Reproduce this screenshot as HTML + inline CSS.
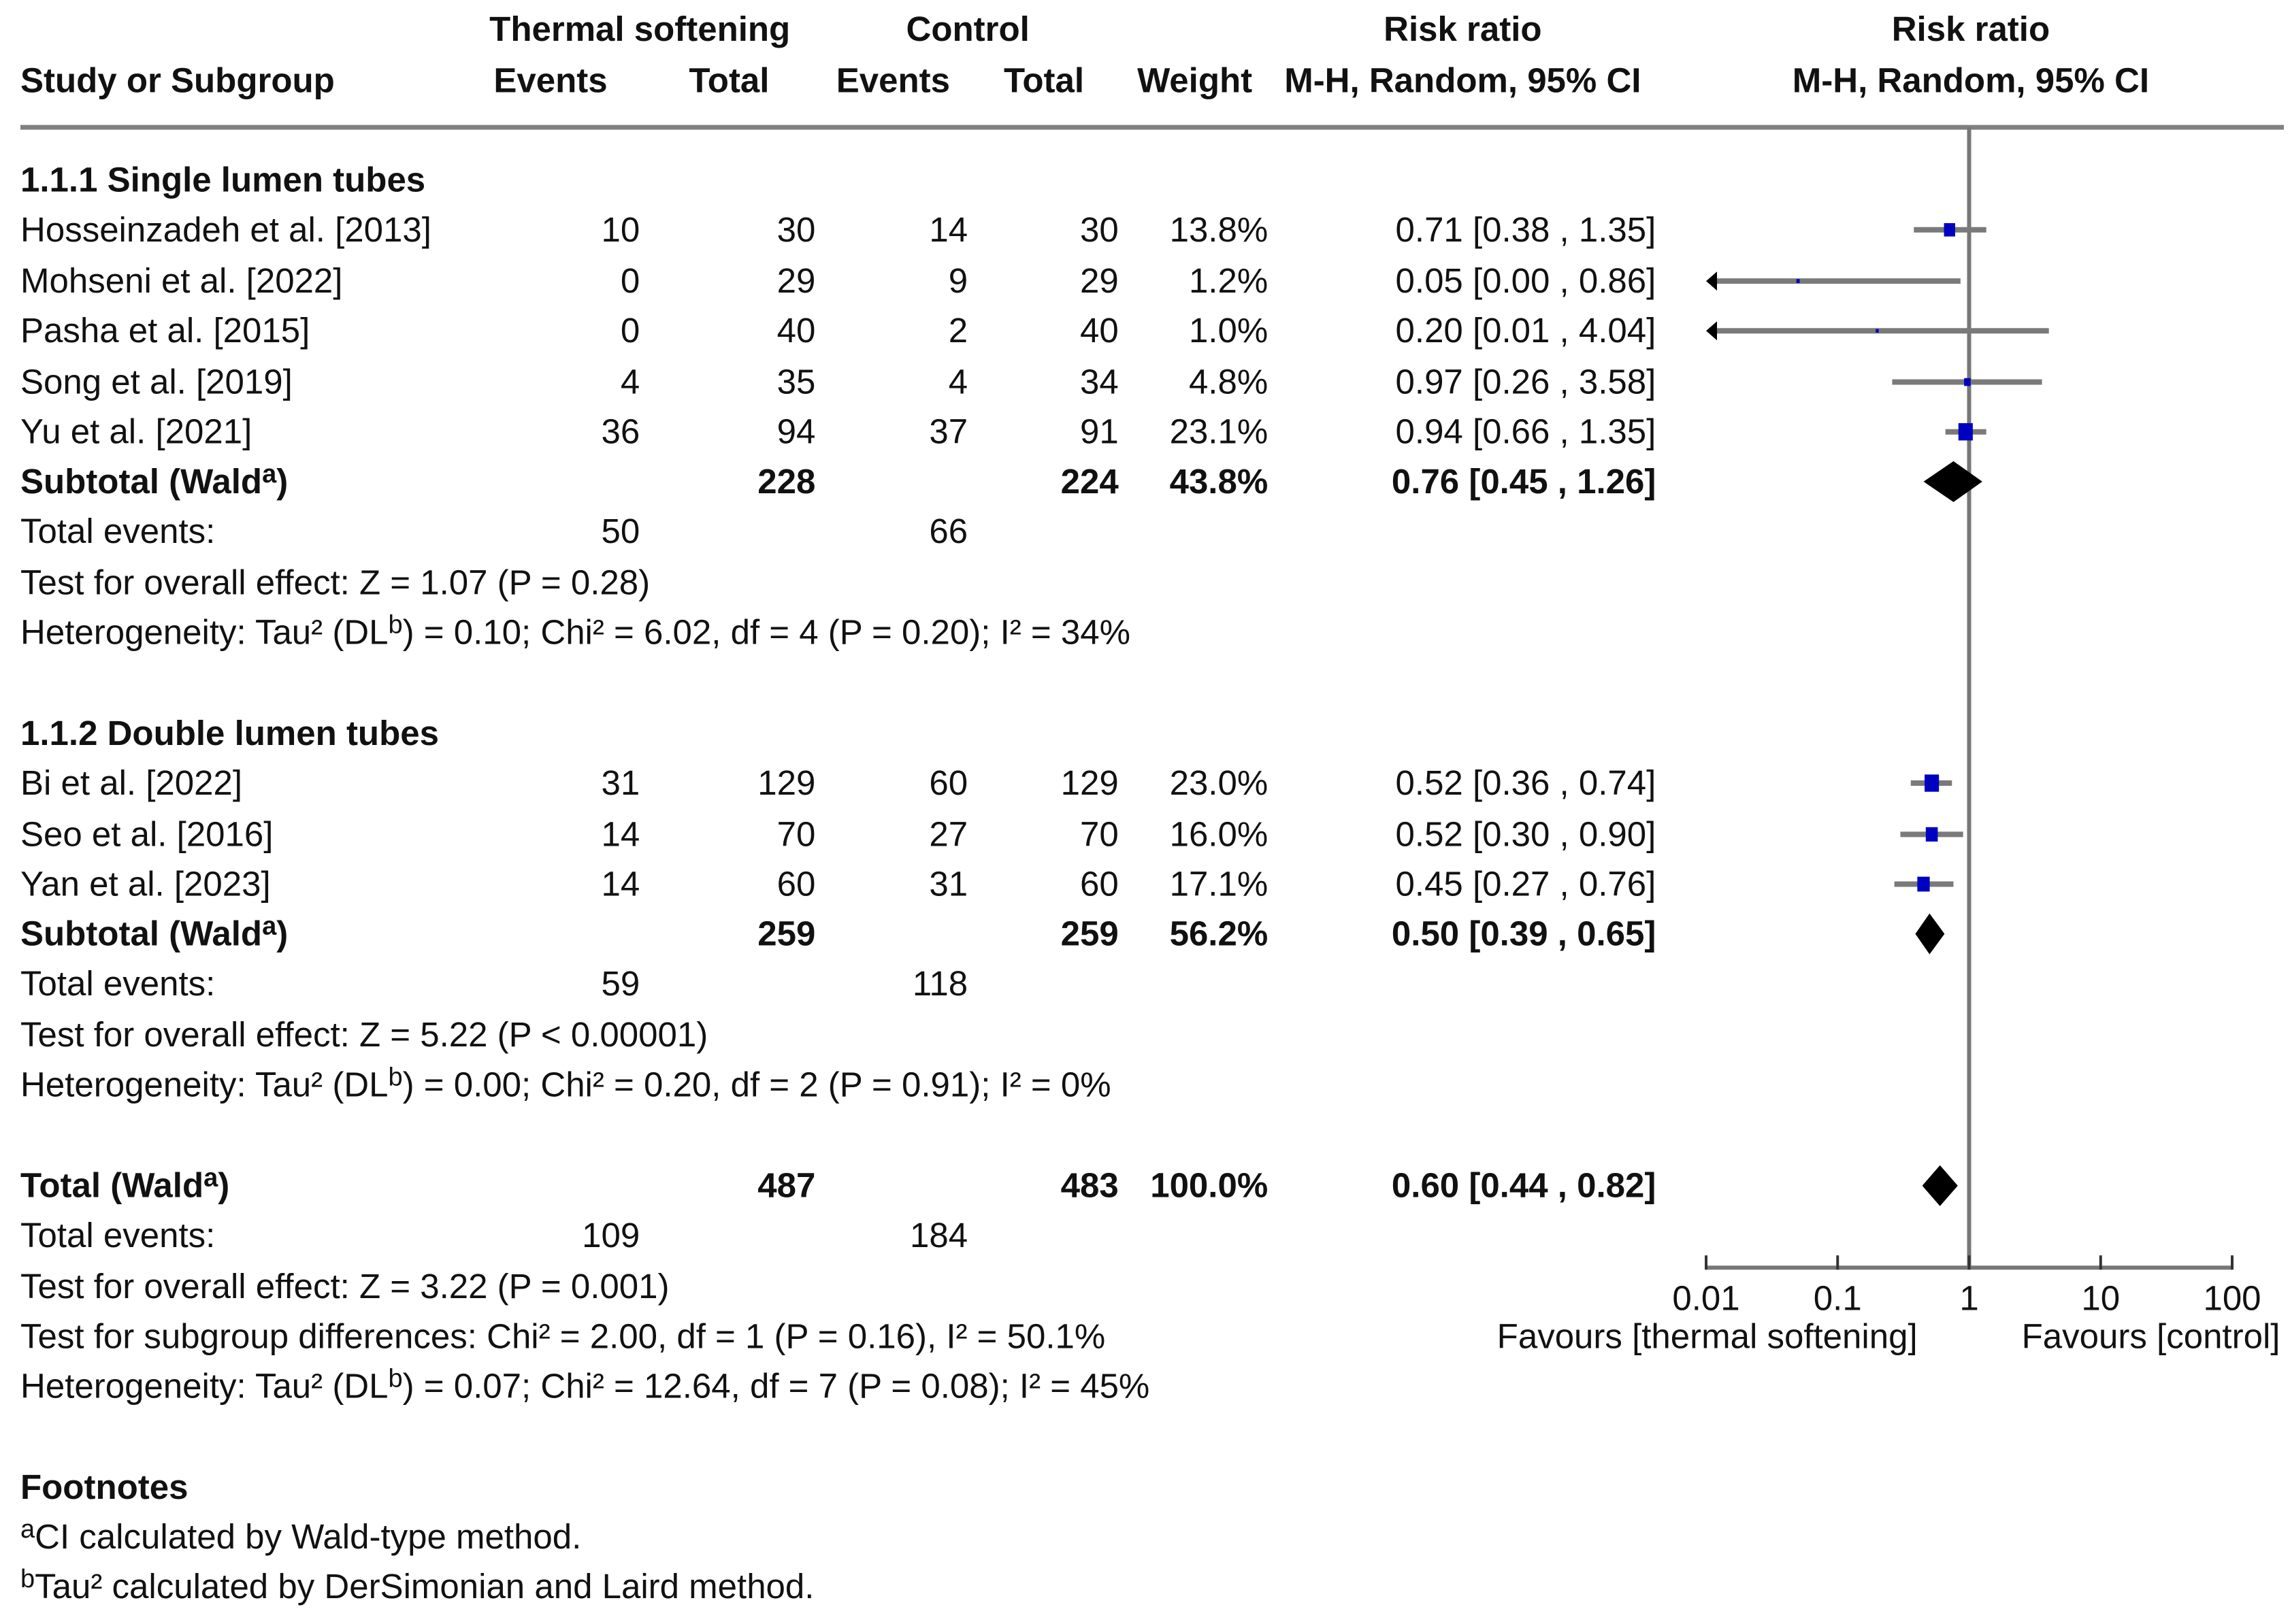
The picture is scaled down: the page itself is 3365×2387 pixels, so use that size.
<!DOCTYPE html>
<html><head><meta charset="utf-8"><style>
html,body{margin:0;padding:0;background:#fff}
svg{display:block}
text{font-family:"Liberation Sans",Arial,sans-serif;font-size:51px;fill:#111}
.b{font-weight:bold}
</style></head><body>
<svg id="c" width="3365" height="2387" viewBox="0 0 3365 2387"></svg>
<script>
const studies=["Hosseinzadeh et al. [2013]","Mohseni et al. [2022]","Pasha et al. [2015]","Song et al. [2019]","Yu et al. [2021]","Bi et al. [2022]","Seo et al. [2016]","Yan et al. [2023]"];
const tsEvents=[10,0,0,4,36,31,14,14];
const tsTotal=[30,29,40,35,94,129,70,60];
const ctEvents=[14,9,2,4,37,60,27,31];
const ctTotal=[30,29,40,34,91,129,70,60];
const weights=[13.8,1.2,1.0,4.8,23.1,23.0,16.0,17.1];
const rr=[0.71,0.05,0.20,0.97,0.94,0.52,0.52,0.45];
const lo=[0.38,0.00,0.01,0.26,0.66,0.36,0.30,0.27];
const hi=[1.35,0.86,4.04,3.58,1.35,0.74,0.90,0.76];
const studyRows=[157,192,226,261,295,535,570,604];
const subRR=[0.76,0.50,0.60];
const subLo=[0.45,0.39,0.44];
const subHi=[1.26,0.65,0.82];
const subRows=[329,638,810];
const ticks=[0.01,0.1,1,10,100];
const tickLabels=["0.01","0.1","1","10","100"];

const S=2.1515;
const svg=document.getElementById('c');
const NS='http://www.w3.org/2000/svg';
const X0=2507,X1=3280;
function xs(v){v=Math.max(v,0.01);return X0+(Math.log10(v)+2)/4*(X1-X0);}
function Y(d){return d*S;}
function el(tag,attrs){const e=document.createElementNS(NS,tag);for(const k in attrs)e.setAttribute(k,attrs[k]);svg.appendChild(e);return e;}
function txt(x,yc,s,anchor,bold,name){
  const t=el('text',{x:x,y:Y(yc)+17,'text-anchor':anchor||'start'});
  if(bold)t.setAttribute('class','b');
  
  
  const parts=s.split(/(\^[a-z])/);
  parts.forEach(p=>{
    const ts=document.createElementNS(NS,'tspan');
    if(p.startsWith('^')){ts.textContent=p.slice(1);ts.setAttribute('dy','-16');ts.setAttribute('font-size','38');}
    else{ts.textContent=p;if(t.childNodes.length&&t.lastChild.getAttribute('dy')==='-16')ts.setAttribute('dy','16');}
    t.appendChild(ts);
  });
  return t;
}
const cEv=437*S,cTo=557*S,cCe=661*S,cCt=764*S,cW=866*S,cRR=1131*S,L=30;
txt(437*S,20,"Thermal softening","middle",true,"header-thermal-softening");
txt(661*S,20,"Control","middle",true,"header-control");
txt(999*S,20,"Risk ratio","middle",true,"header-risk-ratio");
txt(1346*S,20,"Risk ratio","middle",true,"header-risk-ratio-plot");
txt(L,55,"Study or Subgroup","start",true,"header-study");
txt(376*S,55,"Events","middle",true,"header-ts-events");
txt(498*S,55,"Total","middle",true,"header-ts-total");
txt(610*S,55,"Events","middle",true,"header-ct-events");
txt(713*S,55,"Total","middle",true,"header-ct-total");
txt(816*S,55,"Weight","middle",true,"header-weight");
txt(999*S,55,"M-H, Random, 95% CI","middle",true,"header-method");
txt(1346*S,55,"M-H, Random, 95% CI","middle",true,"header-method-plot");
let hl=el('line',{x1:L,x2:3356,y1:Y(87),y2:Y(87),stroke:'#808080','stroke-width':7});



txt(L,123,"1.1.1 Single lumen tubes","start",true,"subgroup-single-lumen");
txt(L,501,"1.1.2 Double lumen tubes","start",true,"subgroup-double-lumen");

let vl=el('line',{x1:xs(1),x2:xs(1),y1:Y(87),y2:Y(866),stroke:'#777','stroke-width':6});



studies.forEach((s,i)=>{
  const y=studyRows[i];
  txt(L,y,s,"start",false,"study-name");
  txt(cEv,y,String(tsEvents[i]),"end",false,"ts-events");
  txt(cTo,y,String(tsTotal[i]),"end",false,"ts-total");
  txt(cCe,y,String(ctEvents[i]),"end",false,"ct-events");
  txt(cCt,y,String(ctTotal[i]),"end",false,"ct-total");
  txt(cW,y,weights[i].toFixed(1)+"%","end",false,"weight");
  txt(cRR,y,rr[i].toFixed(2)+" ["+lo[i].toFixed(2)+" , "+hi[i].toFixed(2)+"]","end",false,"risk-ratio-ci");
  const yy=Y(y);
  const clip=lo[i]<=0.01;
  const x1=clip?xs(0.01)+14:xs(lo[i]);
  const ln=el('line',{x1:x1,x2:xs(hi[i]),y1:yy,y2:yy,stroke:'#7a7a7a','stroke-width':8});
  
  
  if(clip){
    const a=el('polygon',{points:`${xs(0.01)},${yy} ${xs(0.01)+16},${yy-14} ${xs(0.01)+16},${yy+14}`,fill:'#000'});
    
    
  }
  const sz=4.4*Math.sqrt(weights[i]);
  const sq=el('rect',{x:xs(rr[i])-sz/2,y:yy-sz/2*1.2,width:sz,height:sz*1.2,fill:'#0000c0'});
  
  
});

const subTs=[228,259,487],subCt=[224,259,483],subW=["43.8%","56.2%","100.0%"];
const subLabel=["Subtotal (Wald^a)","Subtotal (Wald^a)","Total (Wald^a)"];
subRows.forEach((y,i)=>{
  txt(L,y,subLabel[i],"start",true,"subtotal-label");
  txt(cTo,y,String(subTs[i]),"end",true,"subtotal-ts-total");
  txt(cCt,y,String(subCt[i]),"end",true,"subtotal-ct-total");
  txt(cW,y,subW[i],"end",true,"subtotal-weight");
  txt(cRR,y,subRR[i].toFixed(2)+" ["+subLo[i].toFixed(2)+" , "+subHi[i].toFixed(2)+"]","end",true,"subtotal-ci");
  const yy=Y(y),h=30;
  const d=el('polygon',{points:`${xs(subLo[i])},${yy} ${xs(subRR[i])},${yy-h} ${xs(subHi[i])},${yy} ${xs(subRR[i])},${yy+h}`,fill:'#000'});
  
  
});

const te=[[363,50,66],[672,59,118],[844,109,184]];
te.forEach(r=>{txt(L,r[0],"Total events:","start",false,"total-events-label");
  txt(cEv,r[0],String(r[1]),"end",false,"total-events-ts");
  txt(cCe,r[0],String(r[2]),"end",false,"total-events-ct");});
txt(L,398,"Test for overall effect: Z = 1.07 (P = 0.28)","start",false,"overall-effect-1");
txt(L,432,"Heterogeneity: Tau² (DL^b) = 0.10; Chi² = 6.02, df = 4 (P = 0.20); I² = 34%","start",false,"heterogeneity-1");
txt(L,707,"Test for overall effect: Z = 5.22 (P < 0.00001)","start",false,"overall-effect-2");
txt(L,741,"Heterogeneity: Tau² (DL^b) = 0.00; Chi² = 0.20, df = 2 (P = 0.91); I² = 0%","start",false,"heterogeneity-2");
txt(L,879,"Test for overall effect: Z = 3.22 (P = 0.001)","start",false,"overall-effect-total");
txt(L,913,"Test for subgroup differences: Chi² = 2.00, df = 1 (P = 0.16), I² = 50.1%","start",false,"subgroup-differences");
txt(L,947,"Heterogeneity: Tau² (DL^b) = 0.07; Chi² = 12.64, df = 7 (P = 0.08); I² = 45%","start",false,"heterogeneity-total");
txt(L,1016,"Footnotes","start",true,"footnotes-title");
txt(L,1050,"^aCI calculated by Wald-type method.","start",false,"footnote-a");
txt(L,1084,"^bTau² calculated by DerSimonian and Laird method.","start",false,"footnote-b");

const ay=Y(866);
let ax=el('line',{x1:X0,x2:X1,y1:ay,y2:ay,stroke:'#777','stroke-width':6});


ticks.forEach((t,i)=>{
  const tk=el('line',{x1:xs(t),x2:xs(t),y1:ay-18,y2:ay+3,stroke:'#333','stroke-width':4});
  
  
  txt(xs(t),887,tickLabels[i],"middle",false,"x-tick-label");
});
txt(1166*S,913,"Favours [thermal softening]","middle",false,"favours-left");
txt(1469*S,913,"Favours [control]","middle",false,"favours-right");
</script>
</body></html>
